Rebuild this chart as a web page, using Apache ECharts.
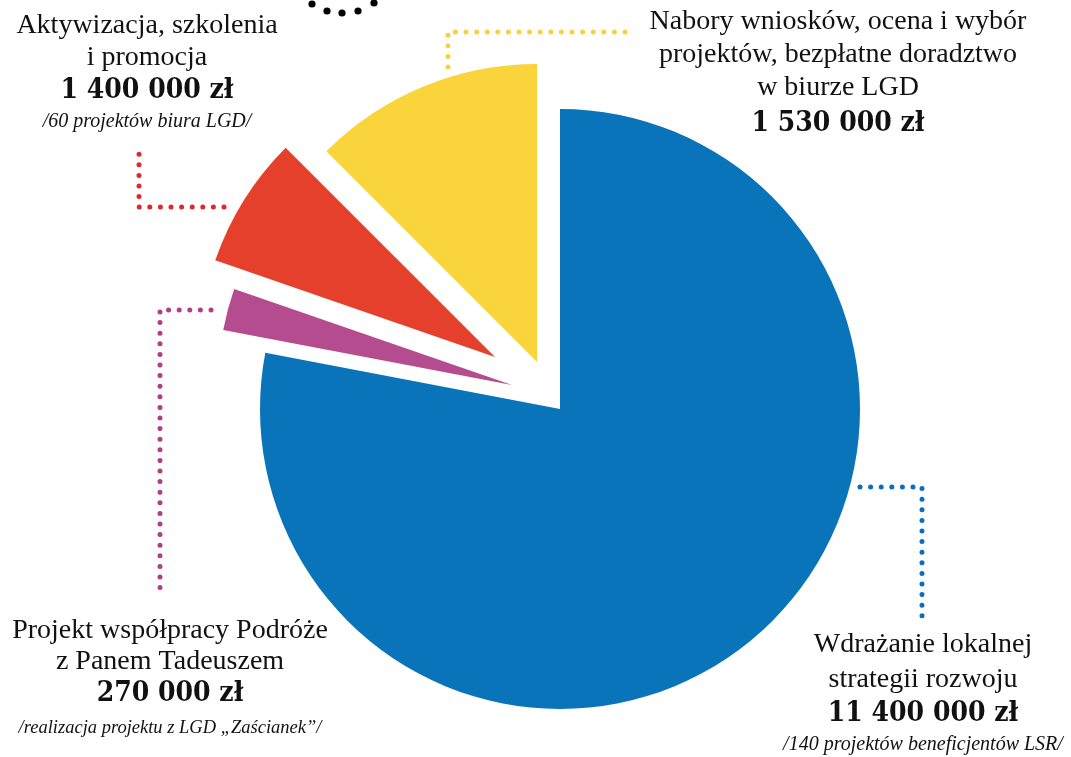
<!DOCTYPE html>
<html><head><meta charset="utf-8">
<script src="https://cdn.jsdelivr.net/npm/echarts@6/dist/echarts.min.js"></script>
<style>html,body{margin:0;padding:0;background:#fff}#c{width:1071px;height:757px}</style>
</head><body><div id="c"></div>
<script>
// ---- data ----
const categories = [
  'Wdrażanie lokalnej strategii rozwoju',
  'Projekt współpracy Podróże z Panem Tadeuszem',
  'Aktywizacja, szkolenia i promocja',
  'Nabory wniosków, ocena i wybór projektów, bezpłatne doradztwo w biurze LGD'
];
const amounts = [11400000, 270000, 1400000, 1530000];
// angular share of each slice as drawn in the picture (%)
const sliceShares = [78.0, 2.3, 7.2, 12.5];
const titleLines = [
  ['Wdrażanie lokalnej', 'strategii rozwoju'],
  ['Projekt współpracy Podróże', 'z Panem Tadeuszem'],
  ['Aktywizacja, szkolenia', 'i promocja'],
  ['Nabory wniosków, ocena i wybór', 'projektów, bezpłatne doradztwo', 'w biurze LGD']
];
const notes = [
  '/140 projektów beneficjentów LSR/',
  '/realizacja projektu z LGD „Zaścianek”/',
  '/60 projektów biura LGD/',
  ''
];

// ---- styles / layout ----
const colors = ['#0A74BA', '#B54C8F', '#E5402B', '#F9D53B'];
const leaderColors = ['#0A6EBD', '#B23C88', '#E3262B', '#F7D23E'];
const sliceLayout = [
  {center: [560, 409], r: 300},
  {center: [512, 385], r: 294},
  {center: [495, 357], r: 296},
  {center: [537, 362], r: 298}
];
const labelLayout = [
  {x: 923, y: [645, 680, 714, 745], noteSize: 20},
  {x: 170, y: [631, 662, 694, 728], noteSize: 18.5},
  {x: 147, y: [26, 58, 91, 122], noteSize: 20},
  {x: 838, y: [22, 55, 88, 124], noteSize: 20}
];
const leaderPaths = [
  [[860, 487], [922, 487], [922, 620]],
  [[211, 310], [160, 310], [160, 595]],
  [[224, 207], [139, 207], [139, 147]],
  [[448, 67], [448, 32], [629, 32]]
];
const fonts = {
  title: () => '28px "Liberation Serif", serif',
  amount: () => 'bold condensed 28px "DejaVu Serif Condensed", "DejaVu Serif", serif',
  note: (L) => 'italic ' + L.noteSize + 'px "Liberation Serif", serif'
};

function fmt(v) { return String(v).replace(/\B(?=(\d{3})+(?!\d))/g, ' ') + ' zł'; }

const series = categories.map((_, k) => ({
  type: 'pie',
  center: sliceLayout[k].center,
  radius: sliceLayout[k].r,
  startAngle: 90,
  clockwise: true,
  silent: true,
  animation: false,
  label: {show: false},
  labelLine: {show: false},
  emphasis: {disabled: true},
  data: categories.map((name, i) => ({
    name: name,
    value: sliceShares[i],
    itemStyle: {color: i === k ? colors[i] : 'rgba(0,0,0,0)', borderWidth: 0}
  }))
}));

const graphics = [];
leaderPaths.forEach((pts, i) => {
  graphics.push({
    type: 'polyline', silent: true, z: 10,
    shape: {points: pts},
    style: {stroke: leaderColors[i], lineWidth: 5, lineDash: [0, 10.6], lineCap: 'round', fill: null}
  });
});
categories.forEach((name, i) => {
  const L = labelLayout[i];
  const lines = titleLines[i].map(t => ({t: t, kind: 'title'}));
  lines.push({t: fmt(amounts[i]), kind: 'amount'});
  if (notes[i]) lines.push({t: notes[i], kind: 'note'});
  lines.forEach((ln, j) => {
    graphics.push({
      type: 'text', silent: true, z: 10,
      x: L.x, y: L.y[j],
      style: {text: ln.t, align: 'center', verticalAlign: 'middle', fill: '#111', font: fonts[ln.kind](L)}
    });
  });
});
// decorative black dots at top
[[312, 4], [327, 11], [342, 13], [358, 11], [374, 3]].forEach(p => {
  graphics.push({type: 'circle', silent: true, shape: {cx: p[0], cy: p[1], r: 3.6}, style: {fill: '#000'}});
});

const chart = echarts.init(document.getElementById('c'), null, {renderer: 'canvas'});
chart.setOption({
  backgroundColor: '#ffffff',
  animation: false,
  series: series,
  graphic: {elements: graphics}
});
</script>
</body></html>
